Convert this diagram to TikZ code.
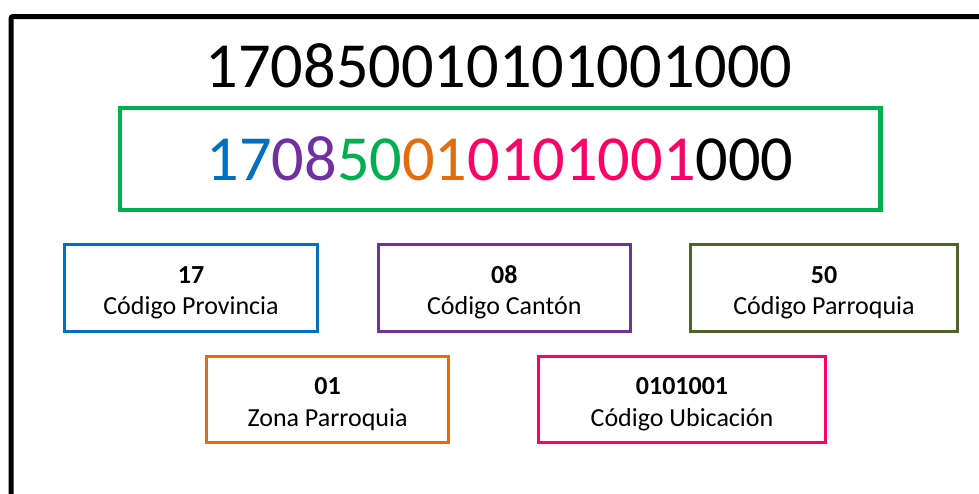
\documentclass[tikz,border=0pt]{standalone}
\usepackage{fontspec}
\setmainfont{Carlito}
\usetikzlibrary{positioning}

\definecolor{provblue}{HTML}{0070C0}
\definecolor{cantpurple}{HTML}{7030A0}
\definecolor{codegreen}{HTML}{00B050}
\definecolor{parrolive}{HTML}{4F6228}
\definecolor{zonaorange}{HTML}{E46C0A}
\definecolor{ubicpink}{HTML}{FF0066}

% number in bold over its name
\newcommand{\codepart}[2]{\rule{0pt}{27pt}\textbf{#1}\\#2}

\begin{document}
\begin{tikzpicture}[
  x=1pt, y=-1pt,
  bignum/.style={inner sep=0pt, text depth=0pt, font=\fontsize{64.3}{70}\selectfont},
  codebox/.style={draw, line width=3pt, align=center, inner sep=0pt,
    font=\fontsize{26}{31.7}\selectfont}
]
\clip (0,0) rectangle (979,493);

% Frame
\draw[line width=5pt, rounded corners=2pt] (11,16.5) rectangle (1010,530);

% Numbers
\node[bignum] (clave) at (499,66) {170850010101001000};
\node[bignum, draw=codegreen, line width=4.5pt, minimum width=760.5pt, minimum height=102pt]
  (clavecolor) at (500,159)
  {{\color{provblue}17}{\color{cantpurple}08}{\color{codegreen}50}{\color{zonaorange}01}{\color{ubicpink}0101001}000};

% Parts of the code
\node[codebox, draw=provblue, minimum width=253pt, minimum height=86.5pt]
  (provincia) at (191,287.75) {\codepart{17}{Código Provincia}};
\node[codebox, draw=cantpurple, minimum width=252.5pt, minimum height=86.5pt]
  (canton) at (504.25,287.75) {\codepart{08}{Código Cantón}};
\node[codebox, draw=parrolive, minimum width=267pt, minimum height=86.5pt]
  (parroquia) at (824,287.75) {\codepart{50}{Código Parroquia}};
\node[codebox, draw=zonaorange, minimum width=242pt, minimum height=85.5pt]
  (zona) at (327.5,399.25) {\codepart{01}{Zona Parroquia}};
\node[codebox, draw=ubicpink, minimum width=287pt, minimum height=85.5pt]
  (ubicacion) at (682,399.25) {\codepart{0101001}{Código Ubicación}};

\end{tikzpicture}
\end{document}
